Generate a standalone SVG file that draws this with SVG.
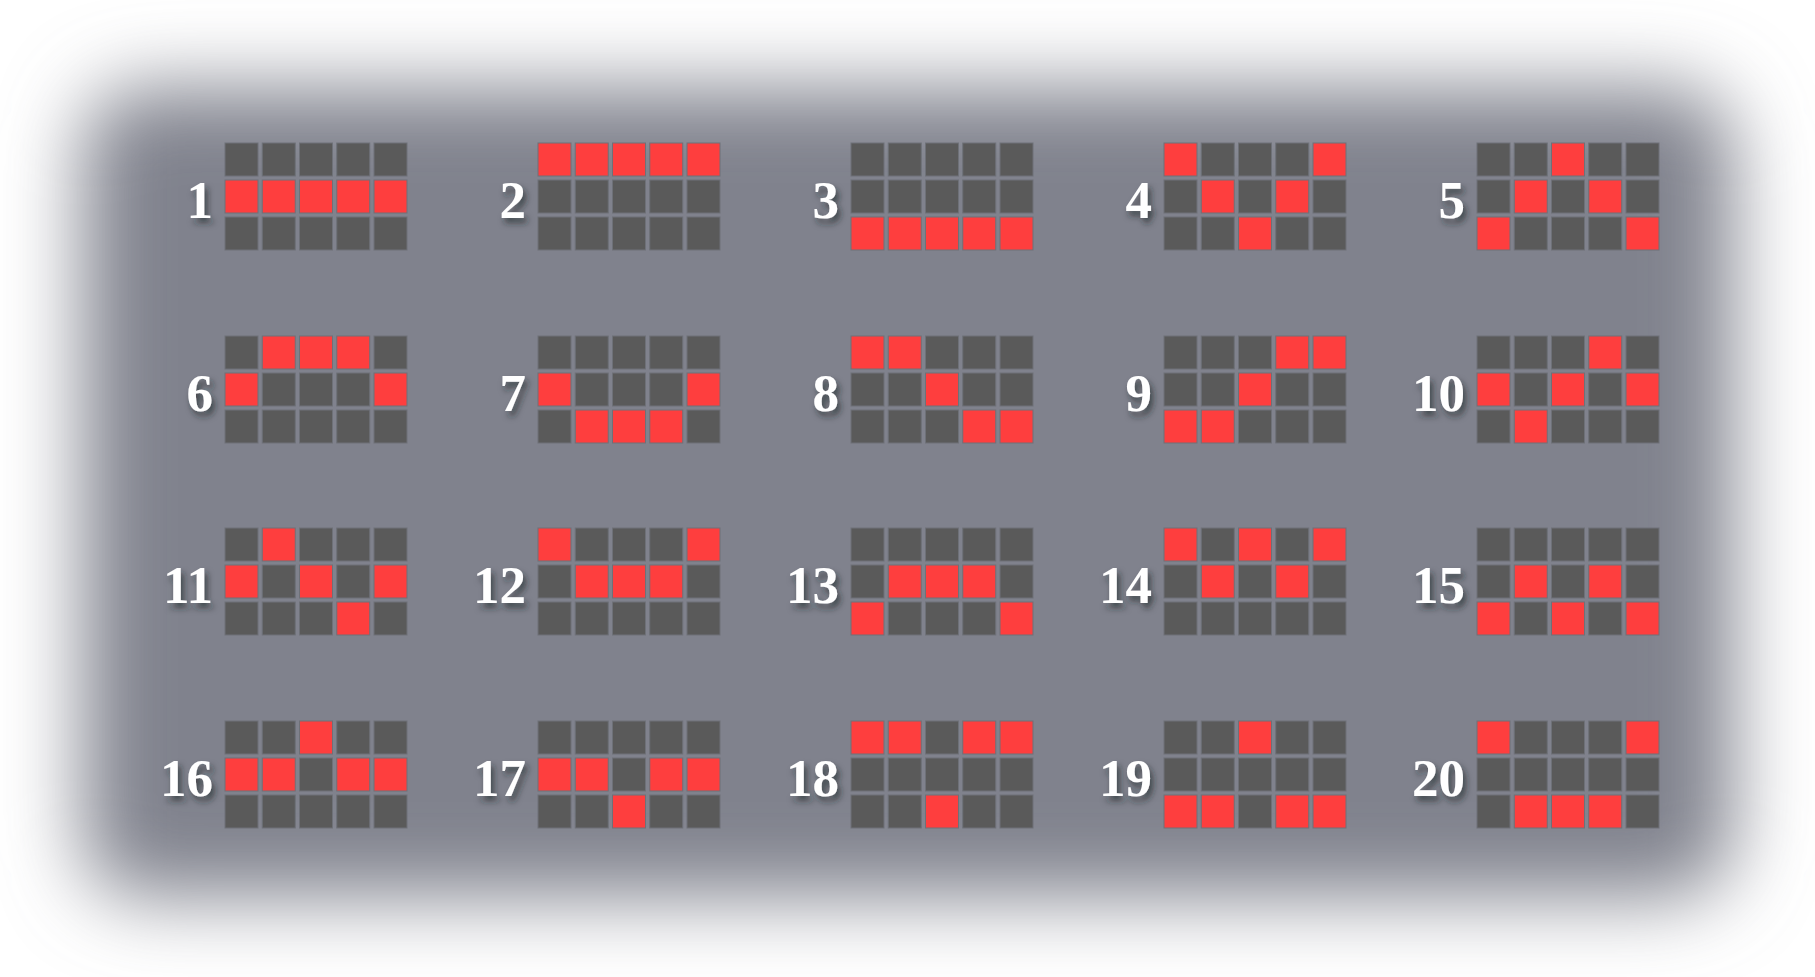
<svg xmlns="http://www.w3.org/2000/svg" width="1815" height="977" viewBox="0 0 1815 977">
<defs>
<style>
.d{fill:#5a5a5a;stroke:#6e7178;stroke-width:1}
.r{fill:#fe3e3e;stroke:#6e7178;stroke-width:1}
.lbl{font-family:"Liberation Serif","DejaVu Serif",serif;font-weight:bold;font-size:53px;fill:#ffffff;text-anchor:end;filter:url(#ts)}
</style>
<filter id="blur" filterUnits="userSpaceOnUse" x="-200" y="-200" width="2215" height="1377">
<feGaussianBlur stdDeviation="40"/>
</filter>
<filter id="ts" x="-30%" y="-30%" width="170%" height="180%">
<feDropShadow dx="3" dy="5" stdDeviation="3" flood-color="#1e2026" flood-opacity="0.65"/>
</filter>
</defs>
<rect x="0" y="0" width="1815" height="977" fill="#ffffff"/>
<rect id="panel" x="83" y="88" width="1649" height="809" rx="60" fill="#80828d" filter="url(#blur)"/>

<g id="line1" transform="translate(225,143)"><text class="lbl" x="-12" y="75">1</text>
<rect class="d" x="0" y="0" width="33" height="33"/><rect class="d" x="37.25" y="0" width="33" height="33"/><rect class="d" x="74.5" y="0" width="33" height="33"/><rect class="d" x="111.75" y="0" width="33" height="33"/><rect class="d" x="149" y="0" width="33" height="33"/>
<rect class="r" x="0" y="37" width="33" height="33"/><rect class="r" x="37.25" y="37" width="33" height="33"/><rect class="r" x="74.5" y="37" width="33" height="33"/><rect class="r" x="111.75" y="37" width="33" height="33"/><rect class="r" x="149" y="37" width="33" height="33"/>
<rect class="d" x="0" y="74" width="33" height="33"/><rect class="d" x="37.25" y="74" width="33" height="33"/><rect class="d" x="74.5" y="74" width="33" height="33"/><rect class="d" x="111.75" y="74" width="33" height="33"/><rect class="d" x="149" y="74" width="33" height="33"/>
</g>
<g id="line2" transform="translate(538,143)"><text class="lbl" x="-12" y="75">2</text>
<rect class="r" x="0" y="0" width="33" height="33"/><rect class="r" x="37.25" y="0" width="33" height="33"/><rect class="r" x="74.5" y="0" width="33" height="33"/><rect class="r" x="111.75" y="0" width="33" height="33"/><rect class="r" x="149" y="0" width="33" height="33"/>
<rect class="d" x="0" y="37" width="33" height="33"/><rect class="d" x="37.25" y="37" width="33" height="33"/><rect class="d" x="74.5" y="37" width="33" height="33"/><rect class="d" x="111.75" y="37" width="33" height="33"/><rect class="d" x="149" y="37" width="33" height="33"/>
<rect class="d" x="0" y="74" width="33" height="33"/><rect class="d" x="37.25" y="74" width="33" height="33"/><rect class="d" x="74.5" y="74" width="33" height="33"/><rect class="d" x="111.75" y="74" width="33" height="33"/><rect class="d" x="149" y="74" width="33" height="33"/>
</g>
<g id="line3" transform="translate(851,143)"><text class="lbl" x="-12" y="75">3</text>
<rect class="d" x="0" y="0" width="33" height="33"/><rect class="d" x="37.25" y="0" width="33" height="33"/><rect class="d" x="74.5" y="0" width="33" height="33"/><rect class="d" x="111.75" y="0" width="33" height="33"/><rect class="d" x="149" y="0" width="33" height="33"/>
<rect class="d" x="0" y="37" width="33" height="33"/><rect class="d" x="37.25" y="37" width="33" height="33"/><rect class="d" x="74.5" y="37" width="33" height="33"/><rect class="d" x="111.75" y="37" width="33" height="33"/><rect class="d" x="149" y="37" width="33" height="33"/>
<rect class="r" x="0" y="74" width="33" height="33"/><rect class="r" x="37.25" y="74" width="33" height="33"/><rect class="r" x="74.5" y="74" width="33" height="33"/><rect class="r" x="111.75" y="74" width="33" height="33"/><rect class="r" x="149" y="74" width="33" height="33"/>
</g>
<g id="line4" transform="translate(1164,143)"><text class="lbl" x="-12" y="75">4</text>
<rect class="r" x="0" y="0" width="33" height="33"/><rect class="d" x="37.25" y="0" width="33" height="33"/><rect class="d" x="74.5" y="0" width="33" height="33"/><rect class="d" x="111.75" y="0" width="33" height="33"/><rect class="r" x="149" y="0" width="33" height="33"/>
<rect class="d" x="0" y="37" width="33" height="33"/><rect class="r" x="37.25" y="37" width="33" height="33"/><rect class="d" x="74.5" y="37" width="33" height="33"/><rect class="r" x="111.75" y="37" width="33" height="33"/><rect class="d" x="149" y="37" width="33" height="33"/>
<rect class="d" x="0" y="74" width="33" height="33"/><rect class="d" x="37.25" y="74" width="33" height="33"/><rect class="r" x="74.5" y="74" width="33" height="33"/><rect class="d" x="111.75" y="74" width="33" height="33"/><rect class="d" x="149" y="74" width="33" height="33"/>
</g>
<g id="line5" transform="translate(1477,143)"><text class="lbl" x="-12" y="75">5</text>
<rect class="d" x="0" y="0" width="33" height="33"/><rect class="d" x="37.25" y="0" width="33" height="33"/><rect class="r" x="74.5" y="0" width="33" height="33"/><rect class="d" x="111.75" y="0" width="33" height="33"/><rect class="d" x="149" y="0" width="33" height="33"/>
<rect class="d" x="0" y="37" width="33" height="33"/><rect class="r" x="37.25" y="37" width="33" height="33"/><rect class="d" x="74.5" y="37" width="33" height="33"/><rect class="r" x="111.75" y="37" width="33" height="33"/><rect class="d" x="149" y="37" width="33" height="33"/>
<rect class="r" x="0" y="74" width="33" height="33"/><rect class="d" x="37.25" y="74" width="33" height="33"/><rect class="d" x="74.5" y="74" width="33" height="33"/><rect class="d" x="111.75" y="74" width="33" height="33"/><rect class="r" x="149" y="74" width="33" height="33"/>
</g>

<g id="line6" transform="translate(225,336)"><text class="lbl" x="-12" y="75">6</text>
<rect class="d" x="0" y="0" width="33" height="33"/><rect class="r" x="37.25" y="0" width="33" height="33"/><rect class="r" x="74.5" y="0" width="33" height="33"/><rect class="r" x="111.75" y="0" width="33" height="33"/><rect class="d" x="149" y="0" width="33" height="33"/>
<rect class="r" x="0" y="37" width="33" height="33"/><rect class="d" x="37.25" y="37" width="33" height="33"/><rect class="d" x="74.5" y="37" width="33" height="33"/><rect class="d" x="111.75" y="37" width="33" height="33"/><rect class="r" x="149" y="37" width="33" height="33"/>
<rect class="d" x="0" y="74" width="33" height="33"/><rect class="d" x="37.25" y="74" width="33" height="33"/><rect class="d" x="74.5" y="74" width="33" height="33"/><rect class="d" x="111.75" y="74" width="33" height="33"/><rect class="d" x="149" y="74" width="33" height="33"/>
</g>
<g id="line7" transform="translate(538,336)"><text class="lbl" x="-12" y="75">7</text>
<rect class="d" x="0" y="0" width="33" height="33"/><rect class="d" x="37.25" y="0" width="33" height="33"/><rect class="d" x="74.5" y="0" width="33" height="33"/><rect class="d" x="111.75" y="0" width="33" height="33"/><rect class="d" x="149" y="0" width="33" height="33"/>
<rect class="r" x="0" y="37" width="33" height="33"/><rect class="d" x="37.25" y="37" width="33" height="33"/><rect class="d" x="74.5" y="37" width="33" height="33"/><rect class="d" x="111.75" y="37" width="33" height="33"/><rect class="r" x="149" y="37" width="33" height="33"/>
<rect class="d" x="0" y="74" width="33" height="33"/><rect class="r" x="37.25" y="74" width="33" height="33"/><rect class="r" x="74.5" y="74" width="33" height="33"/><rect class="r" x="111.75" y="74" width="33" height="33"/><rect class="d" x="149" y="74" width="33" height="33"/>
</g>
<g id="line8" transform="translate(851,336)"><text class="lbl" x="-12" y="75">8</text>
<rect class="r" x="0" y="0" width="33" height="33"/><rect class="r" x="37.25" y="0" width="33" height="33"/><rect class="d" x="74.5" y="0" width="33" height="33"/><rect class="d" x="111.75" y="0" width="33" height="33"/><rect class="d" x="149" y="0" width="33" height="33"/>
<rect class="d" x="0" y="37" width="33" height="33"/><rect class="d" x="37.25" y="37" width="33" height="33"/><rect class="r" x="74.5" y="37" width="33" height="33"/><rect class="d" x="111.75" y="37" width="33" height="33"/><rect class="d" x="149" y="37" width="33" height="33"/>
<rect class="d" x="0" y="74" width="33" height="33"/><rect class="d" x="37.25" y="74" width="33" height="33"/><rect class="d" x="74.5" y="74" width="33" height="33"/><rect class="r" x="111.75" y="74" width="33" height="33"/><rect class="r" x="149" y="74" width="33" height="33"/>
</g>
<g id="line9" transform="translate(1164,336)"><text class="lbl" x="-12" y="75">9</text>
<rect class="d" x="0" y="0" width="33" height="33"/><rect class="d" x="37.25" y="0" width="33" height="33"/><rect class="d" x="74.5" y="0" width="33" height="33"/><rect class="r" x="111.75" y="0" width="33" height="33"/><rect class="r" x="149" y="0" width="33" height="33"/>
<rect class="d" x="0" y="37" width="33" height="33"/><rect class="d" x="37.25" y="37" width="33" height="33"/><rect class="r" x="74.5" y="37" width="33" height="33"/><rect class="d" x="111.75" y="37" width="33" height="33"/><rect class="d" x="149" y="37" width="33" height="33"/>
<rect class="r" x="0" y="74" width="33" height="33"/><rect class="r" x="37.25" y="74" width="33" height="33"/><rect class="d" x="74.5" y="74" width="33" height="33"/><rect class="d" x="111.75" y="74" width="33" height="33"/><rect class="d" x="149" y="74" width="33" height="33"/>
</g>
<g id="line10" transform="translate(1477,336)"><text class="lbl" x="-12" y="75">10</text>
<rect class="d" x="0" y="0" width="33" height="33"/><rect class="d" x="37.25" y="0" width="33" height="33"/><rect class="d" x="74.5" y="0" width="33" height="33"/><rect class="r" x="111.75" y="0" width="33" height="33"/><rect class="d" x="149" y="0" width="33" height="33"/>
<rect class="r" x="0" y="37" width="33" height="33"/><rect class="d" x="37.25" y="37" width="33" height="33"/><rect class="r" x="74.5" y="37" width="33" height="33"/><rect class="d" x="111.75" y="37" width="33" height="33"/><rect class="r" x="149" y="37" width="33" height="33"/>
<rect class="d" x="0" y="74" width="33" height="33"/><rect class="r" x="37.25" y="74" width="33" height="33"/><rect class="d" x="74.5" y="74" width="33" height="33"/><rect class="d" x="111.75" y="74" width="33" height="33"/><rect class="d" x="149" y="74" width="33" height="33"/>
</g>

<g id="line11" transform="translate(225,528)"><text class="lbl" x="-12" y="75">11</text>
<rect class="d" x="0" y="0" width="33" height="33"/><rect class="r" x="37.25" y="0" width="33" height="33"/><rect class="d" x="74.5" y="0" width="33" height="33"/><rect class="d" x="111.75" y="0" width="33" height="33"/><rect class="d" x="149" y="0" width="33" height="33"/>
<rect class="r" x="0" y="37" width="33" height="33"/><rect class="d" x="37.25" y="37" width="33" height="33"/><rect class="r" x="74.5" y="37" width="33" height="33"/><rect class="d" x="111.75" y="37" width="33" height="33"/><rect class="r" x="149" y="37" width="33" height="33"/>
<rect class="d" x="0" y="74" width="33" height="33"/><rect class="d" x="37.25" y="74" width="33" height="33"/><rect class="d" x="74.5" y="74" width="33" height="33"/><rect class="r" x="111.75" y="74" width="33" height="33"/><rect class="d" x="149" y="74" width="33" height="33"/>
</g>
<g id="line12" transform="translate(538,528)"><text class="lbl" x="-12" y="75">12</text>
<rect class="r" x="0" y="0" width="33" height="33"/><rect class="d" x="37.25" y="0" width="33" height="33"/><rect class="d" x="74.5" y="0" width="33" height="33"/><rect class="d" x="111.75" y="0" width="33" height="33"/><rect class="r" x="149" y="0" width="33" height="33"/>
<rect class="d" x="0" y="37" width="33" height="33"/><rect class="r" x="37.25" y="37" width="33" height="33"/><rect class="r" x="74.5" y="37" width="33" height="33"/><rect class="r" x="111.75" y="37" width="33" height="33"/><rect class="d" x="149" y="37" width="33" height="33"/>
<rect class="d" x="0" y="74" width="33" height="33"/><rect class="d" x="37.25" y="74" width="33" height="33"/><rect class="d" x="74.5" y="74" width="33" height="33"/><rect class="d" x="111.75" y="74" width="33" height="33"/><rect class="d" x="149" y="74" width="33" height="33"/>
</g>
<g id="line13" transform="translate(851,528)"><text class="lbl" x="-12" y="75">13</text>
<rect class="d" x="0" y="0" width="33" height="33"/><rect class="d" x="37.25" y="0" width="33" height="33"/><rect class="d" x="74.5" y="0" width="33" height="33"/><rect class="d" x="111.75" y="0" width="33" height="33"/><rect class="d" x="149" y="0" width="33" height="33"/>
<rect class="d" x="0" y="37" width="33" height="33"/><rect class="r" x="37.25" y="37" width="33" height="33"/><rect class="r" x="74.5" y="37" width="33" height="33"/><rect class="r" x="111.75" y="37" width="33" height="33"/><rect class="d" x="149" y="37" width="33" height="33"/>
<rect class="r" x="0" y="74" width="33" height="33"/><rect class="d" x="37.25" y="74" width="33" height="33"/><rect class="d" x="74.5" y="74" width="33" height="33"/><rect class="d" x="111.75" y="74" width="33" height="33"/><rect class="r" x="149" y="74" width="33" height="33"/>
</g>
<g id="line14" transform="translate(1164,528)"><text class="lbl" x="-12" y="75">14</text>
<rect class="r" x="0" y="0" width="33" height="33"/><rect class="d" x="37.25" y="0" width="33" height="33"/><rect class="r" x="74.5" y="0" width="33" height="33"/><rect class="d" x="111.75" y="0" width="33" height="33"/><rect class="r" x="149" y="0" width="33" height="33"/>
<rect class="d" x="0" y="37" width="33" height="33"/><rect class="r" x="37.25" y="37" width="33" height="33"/><rect class="d" x="74.5" y="37" width="33" height="33"/><rect class="r" x="111.75" y="37" width="33" height="33"/><rect class="d" x="149" y="37" width="33" height="33"/>
<rect class="d" x="0" y="74" width="33" height="33"/><rect class="d" x="37.25" y="74" width="33" height="33"/><rect class="d" x="74.5" y="74" width="33" height="33"/><rect class="d" x="111.75" y="74" width="33" height="33"/><rect class="d" x="149" y="74" width="33" height="33"/>
</g>
<g id="line15" transform="translate(1477,528)"><text class="lbl" x="-12" y="75">15</text>
<rect class="d" x="0" y="0" width="33" height="33"/><rect class="d" x="37.25" y="0" width="33" height="33"/><rect class="d" x="74.5" y="0" width="33" height="33"/><rect class="d" x="111.75" y="0" width="33" height="33"/><rect class="d" x="149" y="0" width="33" height="33"/>
<rect class="d" x="0" y="37" width="33" height="33"/><rect class="r" x="37.25" y="37" width="33" height="33"/><rect class="d" x="74.5" y="37" width="33" height="33"/><rect class="r" x="111.75" y="37" width="33" height="33"/><rect class="d" x="149" y="37" width="33" height="33"/>
<rect class="r" x="0" y="74" width="33" height="33"/><rect class="d" x="37.25" y="74" width="33" height="33"/><rect class="r" x="74.5" y="74" width="33" height="33"/><rect class="d" x="111.75" y="74" width="33" height="33"/><rect class="r" x="149" y="74" width="33" height="33"/>
</g>

<g id="line16" transform="translate(225,721)"><text class="lbl" x="-12" y="75">16</text>
<rect class="d" x="0" y="0" width="33" height="33"/><rect class="d" x="37.25" y="0" width="33" height="33"/><rect class="r" x="74.5" y="0" width="33" height="33"/><rect class="d" x="111.75" y="0" width="33" height="33"/><rect class="d" x="149" y="0" width="33" height="33"/>
<rect class="r" x="0" y="37" width="33" height="33"/><rect class="r" x="37.25" y="37" width="33" height="33"/><rect class="d" x="74.5" y="37" width="33" height="33"/><rect class="r" x="111.75" y="37" width="33" height="33"/><rect class="r" x="149" y="37" width="33" height="33"/>
<rect class="d" x="0" y="74" width="33" height="33"/><rect class="d" x="37.25" y="74" width="33" height="33"/><rect class="d" x="74.5" y="74" width="33" height="33"/><rect class="d" x="111.75" y="74" width="33" height="33"/><rect class="d" x="149" y="74" width="33" height="33"/>
</g>
<g id="line17" transform="translate(538,721)"><text class="lbl" x="-12" y="75">17</text>
<rect class="d" x="0" y="0" width="33" height="33"/><rect class="d" x="37.25" y="0" width="33" height="33"/><rect class="d" x="74.5" y="0" width="33" height="33"/><rect class="d" x="111.75" y="0" width="33" height="33"/><rect class="d" x="149" y="0" width="33" height="33"/>
<rect class="r" x="0" y="37" width="33" height="33"/><rect class="r" x="37.25" y="37" width="33" height="33"/><rect class="d" x="74.5" y="37" width="33" height="33"/><rect class="r" x="111.75" y="37" width="33" height="33"/><rect class="r" x="149" y="37" width="33" height="33"/>
<rect class="d" x="0" y="74" width="33" height="33"/><rect class="d" x="37.25" y="74" width="33" height="33"/><rect class="r" x="74.5" y="74" width="33" height="33"/><rect class="d" x="111.75" y="74" width="33" height="33"/><rect class="d" x="149" y="74" width="33" height="33"/>
</g>
<g id="line18" transform="translate(851,721)"><text class="lbl" x="-12" y="75">18</text>
<rect class="r" x="0" y="0" width="33" height="33"/><rect class="r" x="37.25" y="0" width="33" height="33"/><rect class="d" x="74.5" y="0" width="33" height="33"/><rect class="r" x="111.75" y="0" width="33" height="33"/><rect class="r" x="149" y="0" width="33" height="33"/>
<rect class="d" x="0" y="37" width="33" height="33"/><rect class="d" x="37.25" y="37" width="33" height="33"/><rect class="d" x="74.5" y="37" width="33" height="33"/><rect class="d" x="111.75" y="37" width="33" height="33"/><rect class="d" x="149" y="37" width="33" height="33"/>
<rect class="d" x="0" y="74" width="33" height="33"/><rect class="d" x="37.25" y="74" width="33" height="33"/><rect class="r" x="74.5" y="74" width="33" height="33"/><rect class="d" x="111.75" y="74" width="33" height="33"/><rect class="d" x="149" y="74" width="33" height="33"/>
</g>
<g id="line19" transform="translate(1164,721)"><text class="lbl" x="-12" y="75">19</text>
<rect class="d" x="0" y="0" width="33" height="33"/><rect class="d" x="37.25" y="0" width="33" height="33"/><rect class="r" x="74.5" y="0" width="33" height="33"/><rect class="d" x="111.75" y="0" width="33" height="33"/><rect class="d" x="149" y="0" width="33" height="33"/>
<rect class="d" x="0" y="37" width="33" height="33"/><rect class="d" x="37.25" y="37" width="33" height="33"/><rect class="d" x="74.5" y="37" width="33" height="33"/><rect class="d" x="111.75" y="37" width="33" height="33"/><rect class="d" x="149" y="37" width="33" height="33"/>
<rect class="r" x="0" y="74" width="33" height="33"/><rect class="r" x="37.25" y="74" width="33" height="33"/><rect class="d" x="74.5" y="74" width="33" height="33"/><rect class="r" x="111.75" y="74" width="33" height="33"/><rect class="r" x="149" y="74" width="33" height="33"/>
</g>
<g id="line20" transform="translate(1477,721)"><text class="lbl" x="-12" y="75">20</text>
<rect class="r" x="0" y="0" width="33" height="33"/><rect class="d" x="37.25" y="0" width="33" height="33"/><rect class="d" x="74.5" y="0" width="33" height="33"/><rect class="d" x="111.75" y="0" width="33" height="33"/><rect class="r" x="149" y="0" width="33" height="33"/>
<rect class="d" x="0" y="37" width="33" height="33"/><rect class="d" x="37.25" y="37" width="33" height="33"/><rect class="d" x="74.5" y="37" width="33" height="33"/><rect class="d" x="111.75" y="37" width="33" height="33"/><rect class="d" x="149" y="37" width="33" height="33"/>
<rect class="d" x="0" y="74" width="33" height="33"/><rect class="r" x="37.25" y="74" width="33" height="33"/><rect class="r" x="74.5" y="74" width="33" height="33"/><rect class="r" x="111.75" y="74" width="33" height="33"/><rect class="d" x="149" y="74" width="33" height="33"/>
</g>
</svg>
